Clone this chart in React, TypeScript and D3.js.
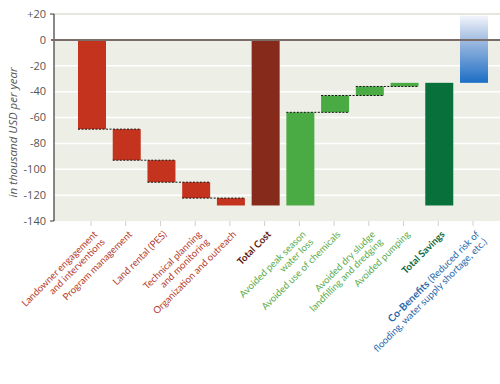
import * as d3 from 'd3';
import React from 'react';

// categories (label lines), kinds and values in thousand USD per year
const labels: string[][] = [
  ['Landowner engagement', 'and interventions'],
  ['Program management'],
  ['Land rental (PES)'],
  ['Technical planning', 'and monitoring'],
  ['Organization and outreach'],
  ['Total Cost'],
  ['Avoided peak season', 'water loss'],
  ['Avoided use of chemicals'],
  ['Avoided dry sludge', 'landfilling and dredging'],
  ['Avoided pumping'],
  ['Total Savings'],
  ['Co-Benefits|(Reduced risk of', 'flooding, water supply shortage, etc.)'],
];
const kinds = ['cost', 'cost', 'cost', 'cost', 'cost', 'totalCost', 'saving', 'saving', 'saving', 'saving', 'totalSaving', 'cobenefit'];
const values = [-69, -24, -17, -12.3, -5.7, 0, 72, 13, 7, 2.8, 0, 52];
const yTicks = [20, 0, -20, -40, -60, -80, -100, -120, -140];

const W = 500;
const H = 384;
const left = 54;
const right = 500;

const fills: Record<string, string> = {
  cost: '#c4331e',
  totalCost: '#862a1b',
  saving: '#4aab45',
  totalSaving: '#08703a',
  cobenefit: 'url(#cobGrad)',
};
const labelColors: Record<string, string> = {
  cost: '#b63a2b',
  totalCost: '#5e1a10',
  saving: '#5aac4c',
  totalSaving: '#0d6a3d',
  cobenefit: '#2668aa',
};

interface Bar {
  i: number;
  kind: string;
  y0: number;
  y1: number;
}

export default function App() {
  const ids = labels.map((_, i) => String(i));
  const x = d3.scalePoint<string>().domain(ids).range([91, 473]);
  const y = d3.scaleLinear().domain([-140, 20]).range([221, 14]);
  const bw = 28;

  // waterfall: running totals, totals drawn from the segment start
  let running = 0;
  let segStart = 0;
  const bars: Bar[] = values.map((v, i) => {
    const k = kinds[i];
    if (k === 'totalCost' || k === 'totalSaving') {
      const b = { i, kind: k, y0: segStart, y1: running };
      segStart = running;
      return b;
    }
    const b = { i, kind: k, y0: running, y1: running + v };
    running += v;
    return b;
  });

  const connectors = bars.slice(0, -1).filter((b, j) => {
    const n = bars[j + 1];
    return (b.kind === 'cost' || b.kind === 'saving') && n.kind === b.kind;
  });

  return (
    <svg width={W} height={H} style={{ position: 'absolute', left: 0, top: 0, background: '#fff' }}>
      <defs>
        <linearGradient id="cobGrad" x1="0" y1="0" x2="0" y2="1">
          <stop offset="0%" stopColor="#f3f5fb" />
          <stop offset="40%" stopColor="#9ab7de" />
          <stop offset="100%" stopColor="#1c6ec6" />
        </linearGradient>
      </defs>
      {/* plot background below zero */}
      <rect x={left} y={y(0)} width={right - left} height={y(-140) - y(0)} fill="#edefe6" />
      <line x1={left} x2={right} y1={y(20)} y2={y(20)} stroke="#deded3" strokeWidth={1.5} />
      {yTicks.filter((t) => t < 0 && t > -140).map((t) => (
        <line key={t} x1={left} x2={right} y1={y(t)} y2={y(t)} stroke="#fff" strokeWidth={1.5} />
      ))}
      {/* y axis */}
      <line x1={left} x2={left} y1={y(20)} y2={y(-140)} stroke="#3a3a3a" strokeWidth={1.2} />
      <line x1={left - 4} x2={left} y1={y(20)} y2={y(20)} stroke="#3a3a3a" strokeWidth={1} />
      <line x1={left - 4} x2={left} y1={y(-140)} y2={y(-140)} stroke="#3a3a3a" strokeWidth={1} />
      {yTicks.map((t) => (
        <text key={t} x={46} y={y(t)} dy="0.35em" textAnchor="end" fontFamily="Open Sans" fontSize={11} fill="#555">
          {t > 0 ? `+${t}` : t}
        </text>
      ))}
      <text
        transform={`translate(17,${(y(-20) + y(-120)) / 2 + 2}) rotate(-90)`}
        textAnchor="middle"
        fontFamily="Open Sans"
        fontStyle="italic"
        fontSize={11.5}
        fill="#555"
      >
        in thousand USD per year
      </text>
      {/* x ticks */}
      {ids.map((id) => (
        <line key={id} x1={x(id)} x2={x(id)} y1={y(-140)} y2={y(-140) + 5} stroke="#d0d0c8" strokeWidth={1} />
      ))}
      {/* bars */}
      {bars.map((b) => (
        <rect
          key={b.i}
          x={(x(String(b.i)) as number) - bw / 2 + 1}
          y={y(Math.max(b.y0, b.y1))}
          width={bw}
          height={Math.abs(y(b.y0) - y(b.y1))}
          fill={fills[b.kind]}
        />
      ))}
      {/* dashed connectors */}
      {connectors.map((b) => (
        <line
          key={b.i}
          x1={(x(String(b.i)) as number) - bw / 2 + 1}
          x2={(x(String(b.i + 1)) as number) + bw / 2 + 1}
          y1={y(b.y1)}
          y2={y(b.y1)}
          stroke="#111"
          strokeWidth={1}
          strokeDasharray="2,1.5"
        />
      ))}
      {/* zero line */}
      <line x1={left - 3} x2={right} y1={y(0)} y2={y(0)} stroke="#7a6c68" strokeWidth={2} />
      {/* x labels */}
      {labels.map((lines, i) => {
        const k = kinds[i];
        const bold = k === 'totalCost' || k === 'totalSaving';
        return (
          <text
            key={i}
            transform={`translate(${(x(String(i)) as number) + 7},${y(-140) + 14}) rotate(-45)`}
            textAnchor="end"
            fontFamily="Lato"
            fontSize={9.7}
            fill={labelColors[k]}
            fontWeight={bold ? 700 : 400}
          >
            {lines.map((ln, j) => {
              if (ln.includes('|')) {
                const [a, b] = ln.split('|');
                return (
                  <tspan key={j} x={0} dy={j === 0 ? 0 : '1.1em'}>
                    <tspan fontWeight={700} fontSize={10.2}>{a}</tspan>
                    <tspan> {b}</tspan>
                  </tspan>
                );
              }
              return (
                <tspan key={j} x={0} dy={j === 0 ? 0 : '1.1em'}>
                  {ln}
                </tspan>
              );
            })}
          </text>
        );
      })}
    </svg>
  );
}
